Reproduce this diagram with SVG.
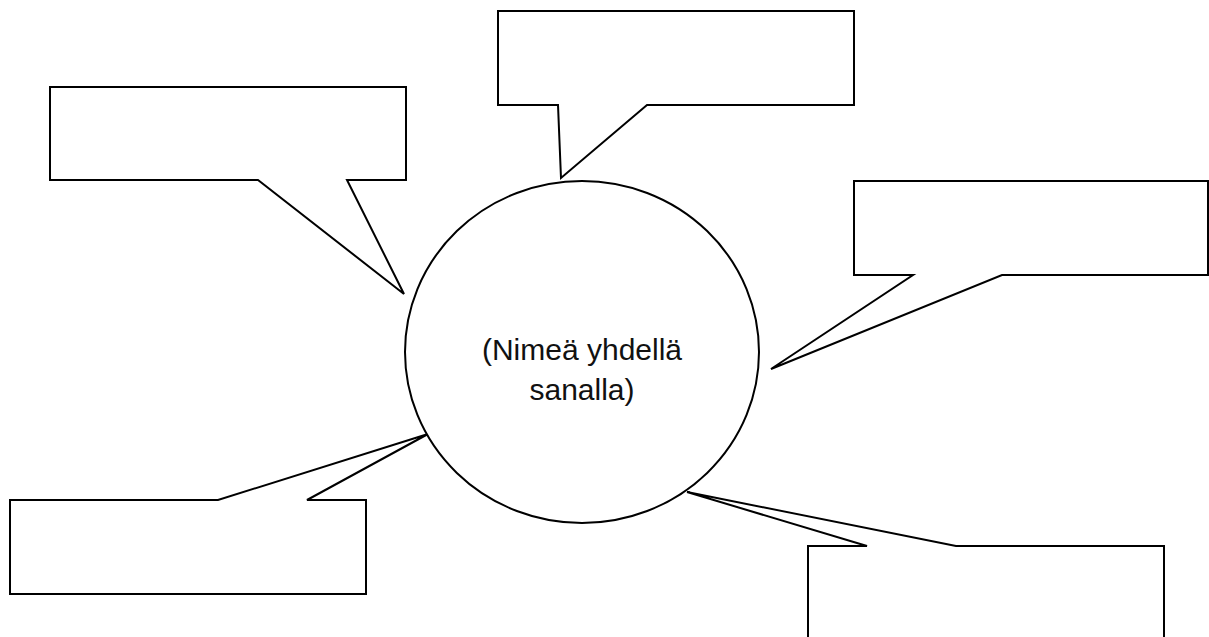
<svg xmlns="http://www.w3.org/2000/svg" width="1209" height="637" viewBox="0 0 1209 637">
<style>
.c{fill:#fff;stroke:#000;stroke-width:2;stroke-linejoin:miter}
.t{font-family:"Liberation Sans",Arial,sans-serif;font-size:30px;fill:#111;text-anchor:middle}
</style>
<rect width="1209" height="637" fill="#fff"/>
<g id="callout-top"><path class="c" d="M498,11 H854 V105 H647 L561,178 L558,105 H498 Z"/></g>
<g id="callout-topleft"><path class="c" d="M50,87 H406 V180 H347 L404,294 L258,180 H50 Z"/></g>
<g id="callout-right"><path class="c" d="M854,181 H1208 V275 H1002 L771,369 L913,275 H854 Z"/></g>
<g id="callout-bottomleft"><path class="c" d="M10,500 H218 L428,434 L307,500 H366 V594 H10 Z"/></g>
<g id="callout-bottomright"><path class="c" d="M808,640 V546 H867 L687,492 L956,546 H1164 V640"/></g>
<g id="center">
<ellipse class="c" cx="582" cy="352" rx="177" ry="171"/>
<text class="t" x="582" y="360">(Nimeä yhdellä</text>
<text class="t" x="582" y="400">sanalla)</text>
</g>
<g id="connectors"></g>
</svg>
